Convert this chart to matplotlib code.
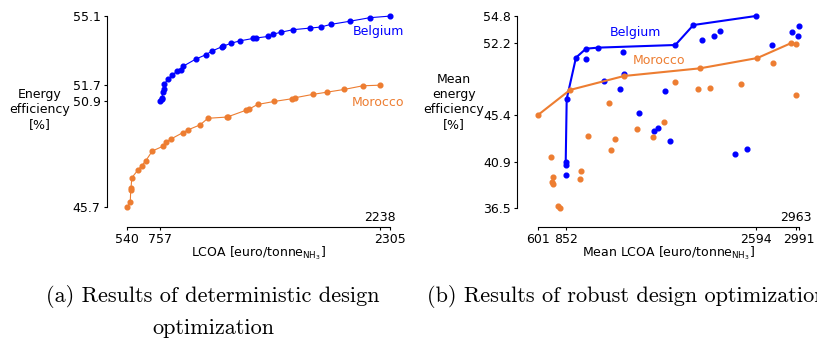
import matplotlib
matplotlib.use("Agg")
import matplotlib.pyplot as plt

# Deterministic design optimization (Pareto fronts)
bel_lcoa = [757, 770, 775, 777, 784, 788, 812, 841, 873, 902, 917, 999, 1068, 1109, 1175,
            1184, 1240, 1296, 1385, 1403, 1488, 1519, 1575, 1653, 1767, 1839, 1906, 2038, 2168, 2305]
bel_eff = [50.9, 51.02, 51.08, 51.37, 51.49, 51.75, 51.98, 52.18, 52.39, 52.46, 52.64, 52.98, 53.2, 53.38, 53.59,
           53.62, 53.77, 53.88, 54.0, 54.02, 54.1, 54.21, 54.31, 54.43, 54.51, 54.56, 54.69, 54.85, 55.02, 55.1]
mor_lcoa = [540, 560, 563, 565, 570, 613, 636, 665, 708, 781, 798, 836, 912, 948, 1030,
            1081, 1207, 1214, 1335, 1355, 1415, 1528, 1644, 1666, 1789, 1885, 1997, 2122, 2238]
mor_eff = [45.7, 45.96, 46.54, 46.62, 47.14, 47.54, 47.73, 47.99, 48.46, 48.7, 48.9, 49.06, 49.36, 49.5, 49.75,
           50.07, 50.13, 50.14, 50.46, 50.51, 50.75, 50.9, 51.03, 51.08, 51.25, 51.36, 51.49, 51.67, 51.7]

# Robust design optimization: front + all evaluated designs
bel_front_lcoa = [852, 861, 946, 1038, 1151, 1856, 2021, 2594]
bel_front_eff = [40.9, 46.9, 50.84, 51.69, 51.79, 52.04, 53.94, 54.8]
bel_pts_lcoa = [858, 858, 1038, 1380, 1206, 1386, 1349, 1523, 1661, 1697, 1810, 1761,
                2097, 2213, 2265, 2402, 2509, 2744, 2927, 2991, 2982]
bel_pts_eff = [40.62, 39.67, 50.74, 51.41, 48.65, 49.28, 47.89, 45.54, 43.86, 44.11, 42.94, 47.63,
               52.55, 52.93, 53.37, 41.7, 42.18, 52.07, 53.28, 53.85, 52.87]
mor_front_lcoa = [601, 891, 1386, 2082, 2607, 2912]
mor_front_eff = [45.4, 47.76, 49.09, 49.82, 50.8, 52.2]
mor_pts_lcoa = [717, 739, 730, 739, 778, 797, 992, 983, 1059, 1248, 1303, 1270, 1508, 1654,
                1752, 1856, 2066, 2176, 2457, 2747, 2963, 2958]
mor_pts_eff = [41.35, 39.48, 39.04, 38.82, 36.75, 36.5, 40.02, 39.29, 43.41, 46.49, 43.07, 42.05, 44.02, 43.26,
               44.75, 48.49, 47.85, 47.92, 48.36, 50.3, 47.31, 52.14]

BLUE = "#0000ff"
ORANGE = "#ed7d31"

plt.rcParams["font.family"] = "DejaVu Sans"
plt.rcParams["mathtext.fontset"] = "dejavusans"
plt.rcParams["font.size"] = 9


def style_axis(ax, xticks, xlabels, yticks, xbounds, ybounds, top_label):
    # range-frame look: spines only span the data range
    for s in ["top", "right"]:
        ax.spines[s].set_visible(False)
    ax.spines["left"].set_bounds(*ybounds)
    ax.spines["bottom"].set_bounds(*xbounds)
    for s in ["left", "bottom"]:
        ax.spines[s].set_linewidth(0.8)
    ax.set_xticks(xticks)
    ax.set_xticklabels(xlabels)
    ax.set_yticks(yticks)
    ax.set_yticklabels([f"{v:.1f}" for v in yticks])
    ax.tick_params(length=2.5, width=0.8, pad=2, labelsize=9)
    # one tick label sits above the axis line
    ax.annotate(str(top_label), xy=(top_label, 0), xycoords=("data", "axes fraction"),
                xytext=(0, 2), textcoords="offset points", ha="center", va="bottom", fontsize=9)


fig = plt.figure(figsize=(8.17, 3.45), dpi=100)

# (a) deterministic
ax1 = fig.add_axes([107 / 817, 1 - 227 / 345, 288 / 817, 217 / 345])
ax1.plot(bel_lcoa, bel_eff, "-o", color=BLUE, lw=0.8, ms=3.4, clip_on=False)
ax1.plot(mor_lcoa, mor_eff, "-o", color=ORANGE, lw=0.8, ms=3.4, clip_on=False)
ax1.set_xlim(403.6, 2338.6)
ax1.set_ylim(44.72, 55.4)
style_axis(ax1, [540, 757, 2238, 2305], ["540", "757", "", "2305"], [45.7, 50.9, 51.7, 55.1],
           (540, 2305), (45.7, 55.1), 2238)
ax1.set_xlabel(r"LCOA [euro/tonne$_{\mathrm{NH}_3}$]", fontsize=9)
ax1.xaxis.set_label_coords(0.526, -0.082, transform=ax1.transAxes)
ax1.xaxis.label.set_va("top")
ax1.set_ylabel("Energy\nefficiency\n[%]", rotation=0, fontsize=9, ha="center", va="center")
ax1.yaxis.set_label_coords(-0.233, 0.54)
ax1.text(2056, 54.33, "Belgium", color=BLUE, fontsize=9, ha="left", va="center")
ax1.text(2050, 50.83, "Morocco", color=ORANGE, fontsize=9, ha="left", va="center")

# (b) robust
ax2 = fig.add_axes([517.3 / 817, 1 - 227 / 345, 292.7 / 817, 217 / 345])
ax2.plot(bel_front_lcoa, bel_front_eff, "-o", color=BLUE, lw=1.5, ms=3.4, clip_on=False)
ax2.plot(bel_pts_lcoa, bel_pts_eff, "o", color=BLUE, ms=3.4, clip_on=False)
ax2.plot(mor_front_lcoa, mor_front_eff, "-o", color=ORANGE, lw=1.5, ms=3.4, clip_on=False)
ax2.plot(mor_pts_lcoa, mor_pts_eff, "o", color=ORANGE, ms=3.4, clip_on=False)
ax2.set_xlim(408.7, 3089)
ax2.set_ylim(34.72, 55.37)
style_axis(ax2, [601, 852, 2594, 2963, 2991], ["601", "852", "2594", "", "2991"], [36.5, 40.9, 45.4, 52.2, 54.8],
           (601, 2991), (36.5, 54.8), 2963)
ax2.set_xlabel(r"Mean LCOA [euro/tonne$_{\mathrm{NH}_3}$]", fontsize=9)
ax2.xaxis.set_label_coords(0.516, -0.082, transform=ax2.transAxes)
ax2.xaxis.label.set_va("top")
ax2.set_ylabel("Mean\nenergy\nefficiency\n[%]", rotation=0, fontsize=9, ha="center", va="center")
ax2.yaxis.set_label_coords(-0.217, 0.577)
ax2.text(1258, 53.21, "Belgium", color=BLUE, fontsize=9, ha="left", va="center")
ax2.text(1467, 50.55, "Morocco", color=ORANGE, fontsize=9, ha="left", va="center")

# captions (LaTeX subfigure style)
fig.text(213 / 817, 1 - 296 / 345, "(a) Results of deterministic design", family="cmr10",
         fontsize=16, ha="center", va="center")
fig.text(213 / 817, 1 - 328 / 345, "optimization", family="cmr10", fontsize=16, ha="center", va="center")
fig.text(427 / 817, 1 - 296 / 345, "(b) Results of robust design optimization", family="cmr10",
         fontsize=16, ha="left", va="center")

fig.savefig("out.png", dpi=100)
